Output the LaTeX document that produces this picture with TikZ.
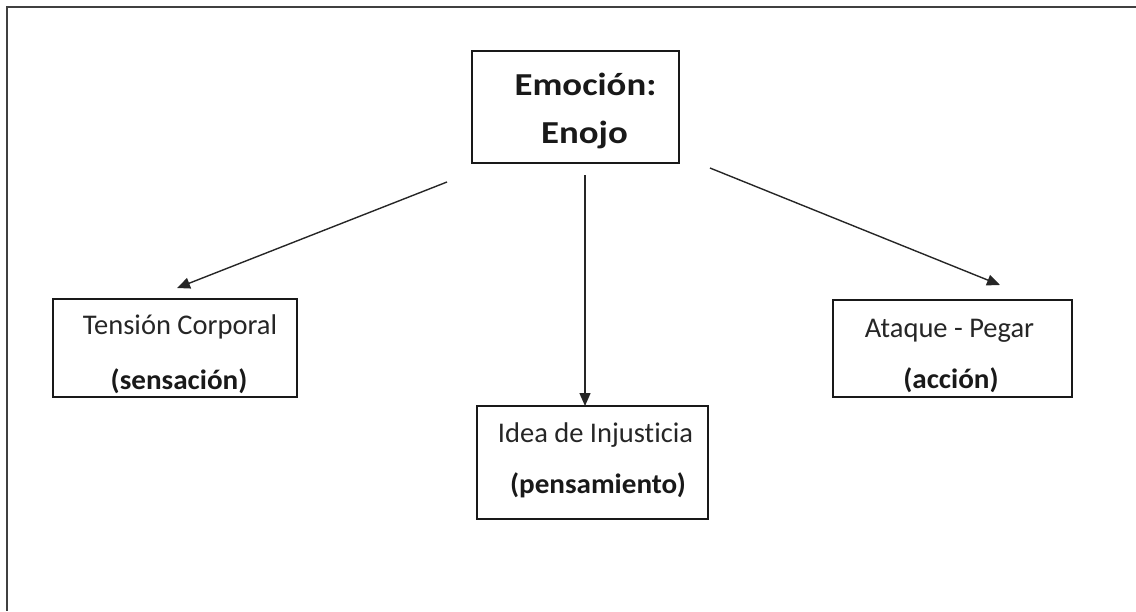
\documentclass[tikz,border=0pt]{standalone}
\usepackage{fontspec}
\setmainfont[RawFeature={-liga}]{Carlito}
\usetikzlibrary{arrows.meta}
\tikzset{
  box/.style={draw=black!90, line width=1.4pt, rectangle, inner sep=0pt},
  link/.style={draw=black!85, line width=1.4pt, -{Triangle[length=13pt,width=11pt]}},
  headtxt/.style={font=\fontsize{32}{32}\selectfont\bfseries, anchor=base, inner sep=0pt,
    text=black!90, xscale=1.15, transform shape},
  maintxt/.style={font=\fontsize{28.5}{28.5}\selectfont, anchor=base, inner sep=0pt, text=black!85},
  subtxt/.style={font=\fontsize{28}{28}\selectfont\bfseries, anchor=base, inner sep=0pt,
    text=black!90, xscale=1.04, transform shape},
}
\begin{document}
\begin{tikzpicture}[x=1pt,y=-1pt]
  \useasboundingbox (0,0) rectangle (1136,611);
  % open frame: top and left edges only
  \draw[line width=2.5pt, black!75] (1136,7) -- (7,7) -- (7,611);

  % boxes
  \node[box, minimum width=207pt, minimum height=112pt] (emo) at (575.5,107) {};
  \node[box, minimum width=244pt, minimum height=98pt]  (sen) at (175,348) {};
  \node[box, minimum width=231pt, minimum height=113pt] (pen) at (592.5,462.5) {};
  \node[box, minimum width=239pt, minimum height=97pt]  (acc) at (952.5,348.5) {};

  % texts
  \node[headtxt] (emo1) at (585.5,95) {Emoción:};
  \node[headtxt] (emo2) at (584.5,143) {Enojo};
  \node[maintxt] (sen1) at (180,334) {Tensión Corporal};
  \node[subtxt]  (sen2) at (179,389) {(sensación)};
  \node[maintxt] (pen1) at (595.5,442) {Idea de Injusticia};
  \node[subtxt]  (pen2) at (598,493) {(pensamiento)};
  \node[maintxt] (acc1) at (949.5,337) {Ataque - Pegar};
  \node[subtxt]  (acc2) at (951,388) {(acción)};

  % connector ends
  \coordinate (l0) at (447,182);
  \coordinate (l1) at (177,288);
  \coordinate (m0) at (585,175);
  \coordinate (m1) at (585,406);
  \coordinate (r0) at (710,168);
  \coordinate (r1) at (1000,285);

  \draw[link] (l0) -- (l1);
  \draw[link] (m0) -- (m1);
  \draw[link] (r0) -- (r1);
\end{tikzpicture}
\end{document}
